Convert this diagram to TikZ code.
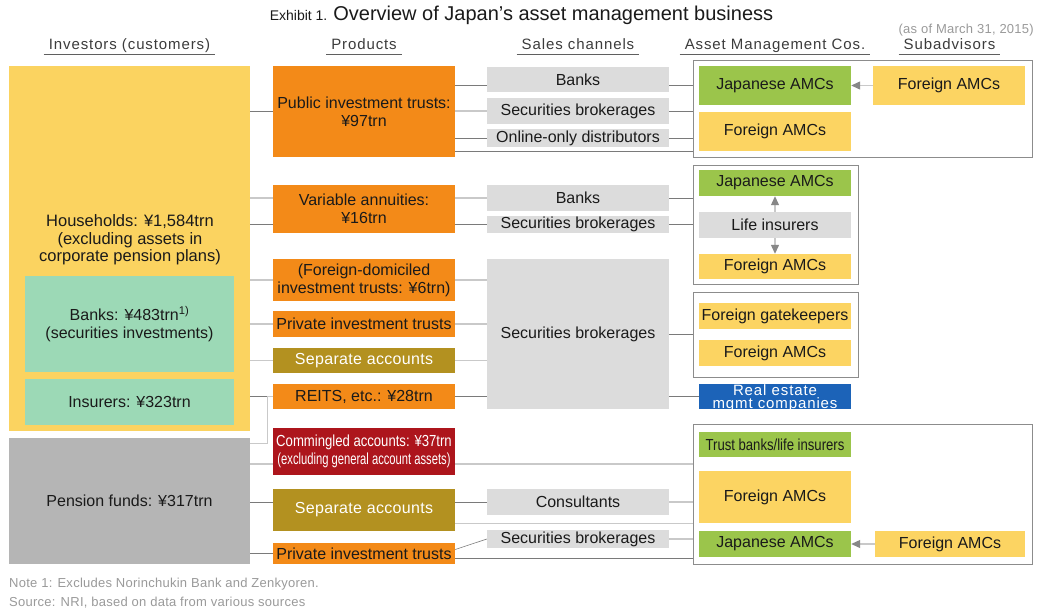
\documentclass[tikz,border=0pt]{standalone}
\usepackage{fontspec}
\setmainfont{Liberation Sans}
\newfontfamily\spacedfam[LetterSpace=6]{Liberation Sans}
\newfontfamily\lightspacedfam[LetterSpace=2]{Liberation Sans}
\newfontfamily\narrowfam[FakeStretch=0.82]{Liberation Sans}
\newfontfamily\narrowerfam[FakeStretch=0.7]{Liberation Sans}
\usetikzlibrary{arrows.meta}

\definecolor{hhyellow}{HTML}{FBD360}
\definecolor{mint}{HTML}{9CD9B6}
\definecolor{pgray}{HTML}{B5B5B5}
\definecolor{prodorange}{HTML}{F38A18}
\definecolor{olive}{HTML}{B39120}
\definecolor{crimson}{HTML}{AD151C}
\definecolor{chgray}{HTML}{DCDCDC}
\definecolor{amcgreen}{HTML}{9BC54B}
\definecolor{amcyellow}{HTML}{FCD462}
\definecolor{reblue}{HTML}{1C63B8}
\definecolor{framegray}{HTML}{8C8C8C}
\definecolor{linkdark}{HTML}{7A7A7A}
\definecolor{linklight}{HTML}{C9C9C9}
\definecolor{ink}{HTML}{1A1A1A}
\definecolor{notegray}{HTML}{9A9A9A}

\newcommand{\bodysize}{\fontsize{16}{18}\selectfont}

\begin{document}
\begin{tikzpicture}[
    x=1pt, y=-1pt,
    font=\bodysize,
    box/.style={minimum width=182pt, inner sep=0pt, align=center, text=ink},
    investor/.style={box, minimum width=241pt},
    product/.style={box, fill=prodorange},
    separate/.style={box, fill=olive, text=white, font=\lightspacedfam\bodysize},
    channel/.style={box, fill=chgray},
    amc/.style={box, minimum width=152pt},
    frame/.style={draw=framegray, line width=1pt, inner sep=0pt},
    head/.style={font=\spacedfam\fontsize{15}{15}\selectfont, text=ink!85,
                 inner xsep=5pt, inner ysep=1.5pt, text height=11pt, text depth=3.5pt},
    rule/.style={draw=ink!70, line width=1pt},
    note/.style={font=\lightspacedfam\fontsize{13}{13}\selectfont, text=notegray, inner sep=0pt},
    link/.style={draw=linkdark, line width=1pt},
    lite/.style={draw=linklight, line width=1.2pt},
    feed/.style={draw=linklight, line width=1.2pt,
                 -{Triangle[length=9pt, width=8pt, color=linkdark!90]}},
  ]
  \path[use as bounding box, fill=white] (0,0) rectangle (1039,611);

  % title
  \node[text=ink, inner sep=0pt] (title) at (521.5,15)
    {{\fontsize{14}{14}\selectfont Exhibit 1.} \fontsize{20}{20}\selectfont Overview of Japan’s asset management business};
  \node[note, anchor=east] (asof) at (1034,30) {(as of March 31, 2015)};

  % column heads
  \node[head] (hinv) at (129.5,46) {Investors (customers)};
  \node[head] (hprod) at (364,46) {Products};
  \node[head] (hsales) at (578,46) {Sales channels};
  \node[head] (hamc) at (775,46) {Asset Management Cos.};
  \node[head] (hsub) at (949.5,46) {Subadvisors};
  \foreach \h in {hinv,hprod,hsales,hamc,hsub}
    \draw[rule] (\h.south west) -- (\h.south east);

  % investors
  \node[investor, fill=hhyellow, minimum height=365pt] (hh) at (129.5,248.5) {};
  \node[text=ink, align=center, inner sep=0pt, font=\fontsize{16.5}{17.5}\selectfont] (hhlabel) at (130,240)
    {Households: ¥1,584trn\\(excluding assets in\\corporate pension plans)};
  \node[box, fill=mint, minimum width=209pt, minimum height=96pt] (banks) at (129.5,324)
    {Banks: ¥483trn\textsuperscript{1)}\\(securities investments)};
  \node[box, fill=mint, minimum width=209pt, minimum height=46pt] (insurers) at (129.5,402) {Insurers: ¥323trn};
  \node[investor, fill=pgray, minimum height=126pt] (pension) at (129.5,501) {Pension funds: ¥317trn};

  % products
  \node[product, minimum height=91pt] (pit) at (364,111.5) {Public investment trusts:\\¥97trn};
  \node[product, minimum height=48pt] (va) at (364,209) {Variable annuities:\\¥16trn};
  \node[product, minimum height=42pt] (fdit) at (364,280) {(Foreign-domiciled\\investment trusts: ¥6trn)};
  \node[product, minimum height=26pt] (priv1) at (364,324) {Private investment trusts};
  \node[separate, minimum height=25pt] (sep1) at (364,360.5) {Separate accounts};
  \node[product, minimum height=25pt] (reits) at (364,396.5) {REITS, etc.: ¥28trn};
  \node[box, fill=crimson, text=white, minimum height=47pt] (comm) at (364,451.5)
    {\narrowfam\fontsize{16}{19.5}\selectfont Commingled accounts: ¥37trn\\\narrowerfam\fontsize{16}{19.5}\selectfont(excluding general account assets)};
  \node[separate, minimum height=42pt] (sep2) at (364,510) {Separate accounts};
  \node[product, minimum height=21pt] (priv2) at (364,553.5) {Private investment trusts};

  % sales channels
  \node[channel, minimum height=25pt] (sbanks1) at (578,79.5) {Banks};
  \node[channel, minimum height=26pt] (ssec1) at (578,111) {Securities brokerages};
  \node[channel, minimum height=18pt] (sonline) at (578,138) {Online-only distributors};
  \node[channel, minimum height=26pt] (sbanks2) at (578,198) {Banks};
  \node[channel, minimum height=17pt] (ssec2) at (578,224.5) {Securities brokerages};
  \node[channel, minimum height=150pt] (ssec3) at (578,334) {Securities brokerages};
  \node[channel, minimum height=26pt] (scons) at (578,502) {Consultants};
  \node[channel, minimum height=18pt] (ssec4) at (578,539) {Securities brokerages};

  % asset management groups
  \node[frame, minimum width=339pt, minimum height=97pt] (f1) at (862.5,108.5) {};
  \node[frame, minimum width=165pt, minimum height=119pt] (f2) at (775.5,224.5) {};
  \node[frame, minimum width=165pt, minimum height=85pt] (f3) at (775.5,334.5) {};
  \node[frame, minimum width=339pt, minimum height=140pt] (f4) at (862.5,494) {};

  % asset management cos. and subadvisors
  \node[amc, fill=amcgreen, minimum height=39pt] (jp1) at (775,85.5) {Japanese AMCs};
  \node[amc, fill=amcyellow, minimum height=39pt] (fo1) at (775,131.5) {Foreign AMCs};
  \node[amc, fill=amcyellow, minimum height=39pt] (sub1) at (949,85.5) {Foreign AMCs};
  \node[amc, fill=amcgreen, minimum height=26pt] (jp2) at (775,183) {Japanese AMCs};
  \node[amc, fill=chgray, minimum height=26pt] (life) at (775,225) {Life insurers};
  \node[amc, fill=amcyellow, minimum height=25pt] (fo2) at (775,266.5) {Foreign AMCs};
  \node[amc, fill=amcyellow, minimum height=26pt] (gate) at (775,316) {Foreign gatekeepers};
  \node[amc, fill=amcyellow, minimum height=26pt] (fo3) at (775,353) {Foreign AMCs};
  \node[amc, fill=reblue, minimum height=25pt,
        label={[text=white, align=center, inner sep=0pt, yshift=-1.5pt, font=\spacedfam\fontsize{15}{13}\selectfont]center:Real estate\\mgmt companies}]
        (reco) at (775,396.5) {};
  \node[amc, fill=amcgreen, minimum height=25pt, font=\narrowfam\fontsize{16}{18}\selectfont] (trust) at (775,444.5) {Trust banks/life insurers};
  \node[amc, fill=amcyellow, minimum height=52pt] (fo4) at (775,497) {Foreign AMCs};
  \node[amc, fill=amcgreen, minimum height=26pt] (jp4) at (775,544) {Japanese AMCs};
  \node[amc, fill=amcyellow, minimum height=26pt, minimum width=150pt] (sub4) at (950,544) {Foreign AMCs};

  % investors to products
  \draw[link] (hh.east |- pit) -- (pit.west);
  \draw[lite] (hh.east |- sbanks2) -- (va.west |- sbanks2);
  \draw[link] (hh.east |- ssec2) -- (va.west |- ssec2);
  \draw[lite] (hh.east |- fdit) -- (fdit.west);
  \draw[lite] (hh.east |- priv1) -- (priv1.west);
  \draw[lite] (hh.east |- sep1) -- (sep1.west);
  \draw[link] (hh.east |- reits) -- (reits.west);
  \draw[lite] ([yshift=-6pt]pension.north east) -- ++(17,0) |- (reits.west);
  \draw[lite] ([yshift=-12.5pt]comm.west -| pension.east) -- ([yshift=-12.5pt]comm.west);
  \draw[link] (pension.east |- scons) -- (sep2.west |- scons);
  \draw[link] (pension.east |- priv2) -- (priv2.west);

  % products to sales channels
  \draw[link] ([yshift=-5.5pt]sbanks1.west -| pit.east) -- ([yshift=-5.5pt]sbanks1.west);
  \draw[lite] (pit.east |- ssec1) -- (ssec1.west);
  \draw[link] (pit.east |- sonline) -- (sonline.west);
  \draw[link] (pit.east |- fo1.south) -- (f1.west |- fo1.south);
  \draw[lite] (va.east |- sbanks2) -- (sbanks2.west);
  \draw[link] (va.east |- ssec2) -- (ssec2.west);
  \draw[lite] (fdit.east) -- (ssec3.west |- fdit);
  \draw[lite] (priv1.east) -- (ssec3.west |- priv1);
  \draw[lite] (sep1.east) -- (ssec3.west |- sep1);
  \draw[link] (reits.east) -- (ssec3.west |- reits);
  \draw[lite] ([yshift=-12.5pt]comm.east) -- ([yshift=-12.5pt]comm.east -| f4.west);
  \draw[link] (sep2.east |- scons) -- (scons.west);
  \draw[lite] (sep2.east |- fo4.south) -- (f4.west |- fo4.south);
  \draw[link, line width=0.6pt] ([yshift=4pt]priv2.east) -- (ssec4.west);
  \draw[link] ([yshift=-4.5pt]priv2.east) -- ([yshift=-4.5pt]priv2.east -| f4.west);

  % sales channels to asset management cos.
  \draw[link] ([yshift=-5.5pt]sbanks1.east) -- ([yshift=-5.5pt]sbanks1.east -| f1.west);
  \draw[link] (ssec1.east) -- (f1.west |- ssec1);
  \draw[link] (sonline.east) -- (f1.west |- sonline);
  \draw[link] (sbanks2.east) -- (f2.west |- sbanks2);
  \draw[link] (ssec2.east) -- (f2.west |- ssec2);
  \draw[link] (ssec3.east) -- (f3.west |- ssec3);
  \draw[link] (ssec3.east |- reco) -- (reco.west);
  \draw[lite] (scons.east) -- (f4.west |- scons);
  \draw[lite] (ssec4.east) -- (f4.west |- ssec4);

  % subadvisory and insurer links
  \draw[feed] (sub1.west) -- (jp1.east);
  \draw[feed] (life.north) -- (jp2.south);
  \draw[feed] (life.south) -- (fo2.north);
  \draw[feed] (sub4.west) -- (jp4.east);

  % notes
  \node[note, anchor=west] (note1) at (9,584) {Note 1: Excludes Norinchukin Bank and Zenkyoren.};
  \node[note, anchor=west] (source) at (9,603) {Source: NRI, based on data from various sources};
\end{tikzpicture}
\end{document}
